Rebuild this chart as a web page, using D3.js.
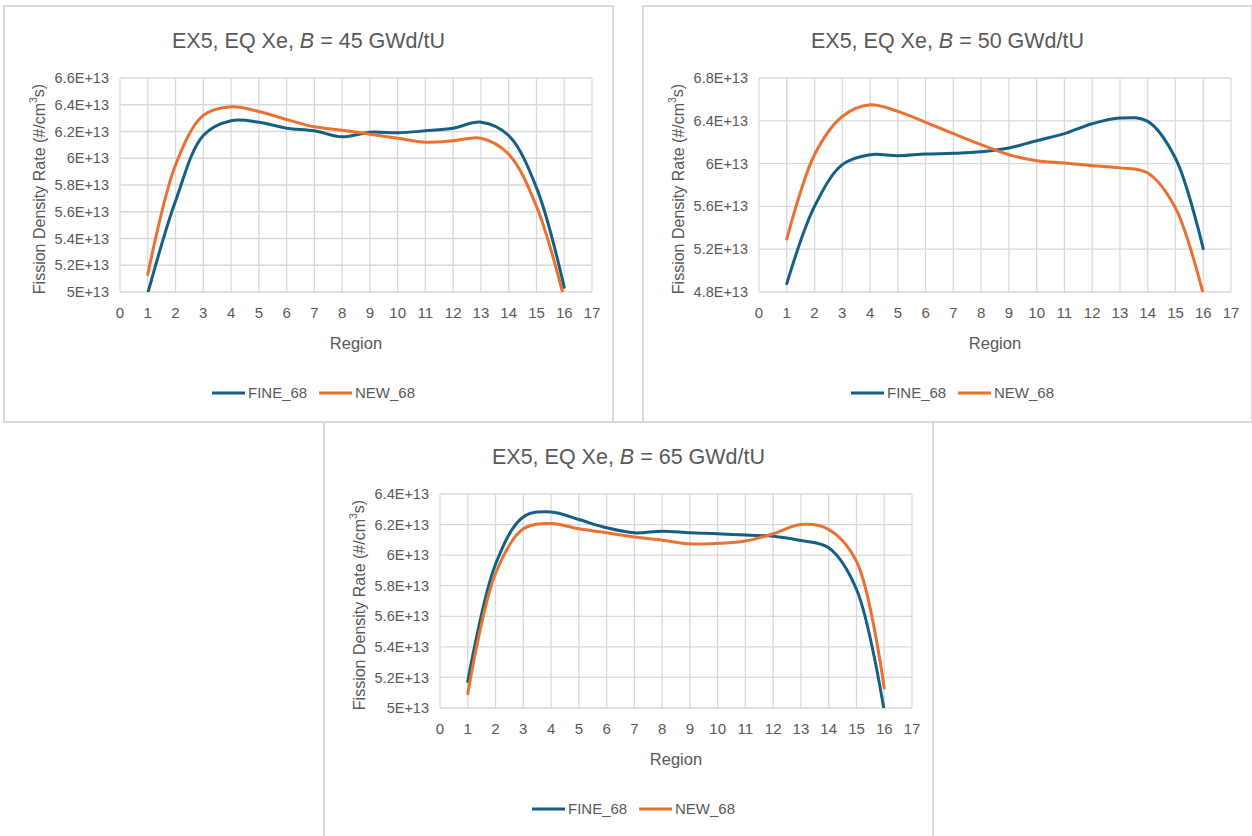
<!DOCTYPE html>
<html><head><meta charset="utf-8">
<script src="https://cdn.jsdelivr.net/npm/d3@7"></script>
<style>
html,body{margin:0;padding:0;background:#fff;}
svg{display:block;font-family:"Liberation Sans",Arial,sans-serif;}
</style></head>
<body>
<svg id="c" width="1252" height="836"></svg>
<script>
// ---------- data ----------
const regions = [1,2,3,4,5,6,7,8,9,10,11,12,13,14,15,16];
const xTicks = [0,1,2,3,4,5,6,7,8,9,10,11,12,13,14,15,16,17];
const seriesNames = ["FINE_68","NEW_68"];
const seriesColors = ["#156082","#E97132"];

const titles = ["45","50","65"];

const fine45 = [4.99,5.68,6.17,6.28,6.27,6.225,6.205,6.16,6.195,6.19,6.205,6.225,6.27,6.17,5.78,5.035];
const new45  = [5.13,5.95,6.32,6.385,6.35,6.29,6.235,6.21,6.18,6.15,6.12,6.13,6.15,6.03,5.64,4.95];

const fine50 = [4.878,5.6,5.99,6.083,6.074,6.09,6.096,6.11,6.146,6.214,6.28,6.373,6.426,6.395,6.05,5.205];
const new50  = [5.295,6.083,6.44,6.55,6.488,6.386,6.28,6.177,6.083,6.027,6.006,5.98,5.96,5.912,5.585,4.78];

const fine65 = [5.174,5.94,6.25,6.283,6.233,6.179,6.146,6.157,6.146,6.14,6.131,6.124,6.096,6.048,5.777,4.98];
const new65  = [5.093,5.88,6.172,6.207,6.172,6.146,6.118,6.098,6.074,6.077,6.092,6.14,6.2,6.168,5.96,5.13];

const yTicks45 = [5.0,5.2,5.4,5.6,5.8,6.0,6.2,6.4,6.6];
const yLabels45 = ["5E+13","5.2E+13","5.4E+13","5.6E+13","5.8E+13","6E+13","6.2E+13","6.4E+13","6.6E+13"];
const yTicks50 = [4.8,5.2,5.6,6.0,6.4,6.8];
const yLabels50 = ["4.8E+13","5.2E+13","5.6E+13","6E+13","6.4E+13","6.8E+13"];
const yTicks65 = [5.0,5.2,5.4,5.6,5.8,6.0,6.2,6.4];
const yLabels65 = ["5E+13","5.2E+13","5.4E+13","5.6E+13","5.8E+13","6E+13","6.2E+13","6.4E+13"];

// ---------- layout ----------
const panels = [
  {x:4,   y:6,   burn:titles[0], s:[fine45,new45], yt:yTicks45, yl:yLabels45},
  {x:643, y:6,   burn:titles[1], s:[fine50,new50], yt:yTicks50, yl:yLabels50},
  {x:324, y:422, burn:titles[2], s:[fine65,new65], yt:yTicks65, yl:yLabels65}
];
const PW = 609, PH = 416;
const TXT = "#595959", GRID = "#d9d9d9";

const svg = d3.select("#c");
const defs = svg.append("defs");

panels.forEach((p,i)=>{
  const g = svg.append("g").attr("transform",`translate(${p.x},${p.y})`);
  g.append("rect").attr("x",0).attr("y",0).attr("width",PW).attr("height",PH)
    .attr("fill","#fff").attr("stroke",GRID).attr("stroke-width",2);

  const L = 116, R = 588, T = 72, B = 286;
  const x = d3.scaleLinear().domain([0,17]).range([L,R]);
  const y = d3.scaleLinear().domain([p.yt[0], p.yt[p.yt.length-1]]).range([B,T]);

  // gridlines
  g.append("g").selectAll("line").data(p.yt).join("line")
    .attr("x1",L).attr("x2",R).attr("y1",d=>y(d)).attr("y2",d=>y(d))
    .attr("stroke",GRID).attr("stroke-width",1.3);
  g.append("g").selectAll("line").data(xTicks).join("line")
    .attr("x1",d=>x(d)).attr("x2",d=>x(d)).attr("y1",T).attr("y2",B)
    .attr("stroke",GRID).attr("stroke-width",1.3);

  // y tick labels
  g.append("g").selectAll("text").data(p.yt).join("text")
    .attr("x",L-11).attr("y",d=>y(d)).attr("dy","0.35em")
    .attr("text-anchor","end").attr("fill",TXT).attr("font-size",14.5)
    .text((d,k)=>p.yl[k]);
  // x tick labels
  g.append("g").selectAll("text").data(xTicks).join("text")
    .attr("x",d=>x(d)).attr("y",B+21).attr("dy","0.35em")
    .attr("text-anchor","middle").attr("fill",TXT).attr("font-size",15)
    .text(d=>d);

  // title
  const t = g.append("text").attr("x",PW/2).attr("y",34).attr("dy","0.35em")
    .attr("text-anchor","middle").attr("fill",TXT).attr("font-size",21.5);
  t.append("tspan").text("EX5, EQ Xe, ");
  t.append("tspan").attr("font-style","italic").text("B");
  t.append("tspan").text(` = ${p.burn} GWd/tU`);

  // axis titles
  g.append("text").attr("x",(L+R)/2).attr("y",337).attr("dy","0.35em")
    .attr("text-anchor","middle").attr("fill",TXT).attr("font-size",16.5).text("Region");
  const yt = g.append("text").attr("transform",`translate(35,${(T+B)/2 + 4}) rotate(-90)`)
    .attr("dy","0.35em").attr("text-anchor","middle").attr("fill",TXT).attr("font-size",16);
  yt.append("tspan").text("Fission Density Rate (#/cm");
  yt.append("tspan").attr("font-size",10.5).attr("dy","-0.7em").text("3");
  yt.append("tspan").attr("dy","0.45em").text("s)");

  // clip
  defs.append("clipPath").attr("id","clip"+i).append("rect")
    .attr("x",L).attr("y",T).attr("width",R-L).attr("height",B-T);

  const line = d3.line().x((d,k)=>x(regions[k])).y(d=>y(d)).curve(d3.curveCatmullRom.alpha(0.5));
  p.s.forEach((vals,si)=>{
    g.append("path").attr("d",line(vals)).attr("fill","none")
      .attr("stroke",seriesColors[si]).attr("stroke-width",3)
      .attr("stroke-linecap","round").attr("stroke-linejoin","round")
      .attr("clip-path",`url(#clip${i})`);
  });

  // legend
  const lg = g.append("g").attr("transform",`translate(0,387)`);
  const items = [{n:seriesNames[0],c:seriesColors[0],x:208},{n:seriesNames[1],c:seriesColors[1],x:315}];
  items.forEach(it=>{
    lg.append("line").attr("x1",it.x).attr("x2",it.x+33).attr("y1",0).attr("y2",0)
      .attr("stroke",it.c).attr("stroke-width",3);
    lg.append("text").attr("x",it.x+36).attr("y",0).attr("dy","0.35em")
      .attr("fill",TXT).attr("font-size",15).text(it.n);
  });
});
</script>
</body></html>
